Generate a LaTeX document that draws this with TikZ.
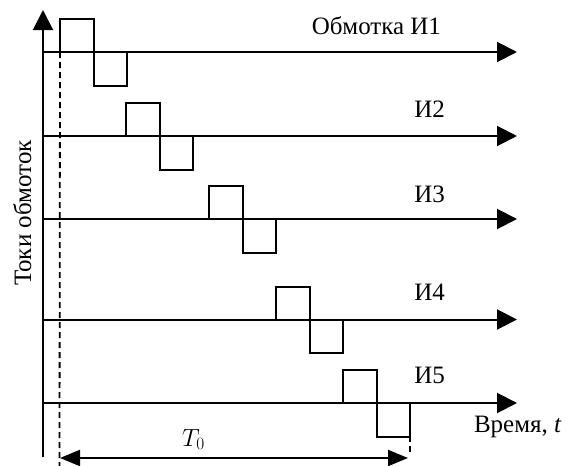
\documentclass[tikz,border=0pt]{standalone}
\usepackage{fontspec}
\setmainfont{Liberation Serif}
\usetikzlibrary{arrows.meta}
\begin{document}
\begin{tikzpicture}[x=1pt,y=-1pt,line width=2pt,
  axisarrow/.style={-{Triangle[length=20pt,width=20pt]}},
  spanarrow/.style={{Triangle[length=20pt,width=16pt]}-{Triangle[length=20pt,width=16pt]}},
  lbl/.style={inner sep=0pt,font=\fontsize{25}{29}\selectfont},
  guide/.style={line width=1.8pt,dash pattern=on 6pt off 4pt}]
\useasboundingbox (0,0) rectangle (571,466);

% vertical axis
\coordinate (ybot) at (43,457);
\coordinate (ytop) at (43,10);
\draw[axisarrow] (ybot) -- (ytop);

% winding current traces: start of pulse / level of time axis / label
\foreach \s/\y/\k in {60/52/1,126/136/2,209/219/3,276/319.5/4,343/403/5}{
  \coordinate (a\k) at (43,\y);
  \coordinate (e\k) at (517,\y);
  \draw[axisarrow] (a\k) -- (e\k);
  \coordinate (p\k) at (\s,\y);
  \draw (p\k) -- ++(0,-33) -- ++(33.5,0) -- ++(0,66.5) -- ++(33.5,0) -- ++(0,-33.5) coordinate (q\k);
}

\node[lbl,anchor=base east] (l1) at (442,34) {Обмотка И1};
\node[lbl,anchor=base east] (l2) at (446,117) {И2};
\node[lbl,anchor=base east] (l3) at (446,202) {И3};
\node[lbl,anchor=base east] (l4) at (446,300) {И4};
\node[lbl,anchor=base east] (l5) at (446,383) {И5};
\node[lbl,anchor=base west] (tl) at (473,432) {Время, \textit{t}};
\node[lbl,anchor=base,rotate=90] (yl) at (31,213) {Токи обмоток};

% period guides
\coordinate (g1) at (59.5,466);
\draw[guide] (p1) -- (g1);
\coordinate (g2a) at (410,436);
\coordinate (g2b) at (410,452);
\draw[guide] (g2a) -- (g2b);

\coordinate (t0l) at (60,458);
\coordinate (t0r) at (408,458);
\draw[spanarrow] (t0l) -- (t0r);
\node[lbl,anchor=base west] (t0) at (181,446) {$T_0$};
\end{tikzpicture}
\end{document}
